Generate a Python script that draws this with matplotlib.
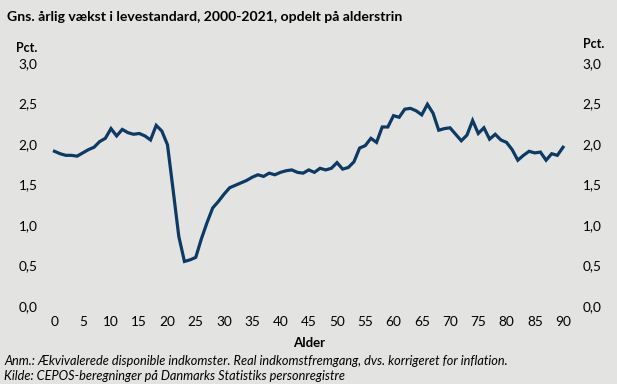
import matplotlib.pyplot as plt

# Gns. aarlig vaekst i levestandard efter alder (pct.)
ages = list(range(0, 91))
growth = [
    1.91, 1.88, 1.86, 1.86, 1.85, 1.89, 1.93, 1.96, 2.03, 2.07,   # 0-9
    2.19, 2.10, 2.18, 2.14, 2.12, 2.13, 2.10, 2.05, 2.23, 2.16,   # 10-19
    1.99, 1.43, 0.86, 0.55, 0.57, 0.60, 0.83, 1.03, 1.21, 1.29,   # 20-29
    1.38, 1.46, 1.49, 1.52, 1.55, 1.59, 1.62, 1.60, 1.64, 1.62,   # 30-39
    1.65, 1.67, 1.68, 1.65, 1.64, 1.68, 1.65, 1.70, 1.68, 1.70,   # 40-49
    1.77, 1.69, 1.71, 1.78, 1.95, 1.98, 2.07, 2.02, 2.21, 2.21,   # 50-59
    2.35, 2.33, 2.43, 2.44, 2.41, 2.36, 2.49, 2.38, 2.17, 2.19,   # 60-69
    2.20, 2.12, 2.04, 2.11, 2.29, 2.13, 2.20, 2.06, 2.12, 2.05,   # 70-79
    2.02, 1.93, 1.80, 1.86, 1.91, 1.89, 1.90, 1.80, 1.88, 1.86,   # 80-89
    1.96,                                                         # 90
]
x_ticks = list(range(0, 91, 5))
y_ticks = [0.0, 0.5, 1.0, 1.5, 2.0, 2.5, 3.0]
y_labels = ['0,0', '0,5', '1,0', '1,5', '2,0', '2,5', '3,0']

bg = '#e3e3e1'
line_color = '#0c3a64'
plt.rcParams['font.family'] = ['Lato', 'DejaVu Sans']

fig = plt.figure(figsize=(6.17, 3.84), dpi=100, facecolor=bg)
ax = fig.add_axes([46 / 617, 1 - 306 / 384, (571.5 - 46) / 617, (306 - 63) / 384])
ax.set_facecolor(bg)

ax.plot(ages, growth, color=line_color, linewidth=2.3, solid_joinstyle='miter')
ax.axhline(0, color='#d2d2d0', linewidth=0.8, zorder=0)

ax.set_xlim(-1.5, 91.5)
ax.set_ylim(0, 3.0)
ax.set_xticks(x_ticks)
ax.set_xticklabels([str(t) for t in x_ticks], fontsize=9.8)
ax.set_yticks(y_ticks)
ax.set_yticklabels(y_labels, fontsize=9.8)
ax.tick_params(length=0, pad=6)
ax.tick_params(axis='x', pad=7)
for s in ax.spines.values():
    s.set_visible(False)

ax2 = ax.twinx()
ax2.set_ylim(0, 3.0)
ax2.set_yticks(y_ticks)
ax2.set_yticklabels(y_labels, fontsize=9.8)
ax2.tick_params(length=0, pad=8)
for s in ax2.spines.values():
    s.set_visible(False)

fig.text(7 / 617, 1 - 17 / 384, 'Gns. årlig vækst i levestandard, 2000-2021, opdelt på alderstrin',
         fontsize=10.1, fontweight='bold', va='center', ha='left')
fig.text(16 / 617, 1 - 48 / 384, 'Pct.', fontsize=9, fontweight='bold', va='center', ha='left')
fig.text(583 / 617, 1 - 44 / 384, 'Pct.', fontsize=9, fontweight='bold', va='center', ha='left')
fig.text(309 / 617, 1 - 343 / 384, 'Alder', fontsize=9.5, fontweight='bold', va='center', ha='center')
fig.text(4 / 617, 1 - 361 / 384,
         'Anm.: Ækvivalerede disponible indkomster. Real indkomstfremgang, dvs. korrigeret for inflation.',
         fontsize=9.2, style='italic', va='center', ha='left')
fig.text(4 / 617, 1 - 376 / 384, 'Kilde: CEPOS-beregninger på Danmarks Statistiks personregistre',
         fontsize=9.2, style='italic', va='center', ha='left')

fig.savefig('out.png', dpi=100, facecolor=bg)
